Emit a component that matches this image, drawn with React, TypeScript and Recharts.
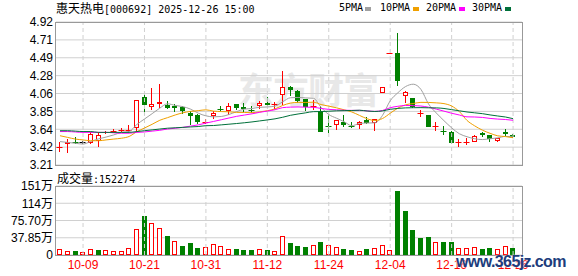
import { Bar, CartesianGrid, ComposedChart, Line, ReferenceLine, XAxis, YAxis } from 'recharts'

const W = 578
const H = 276
const RED = '#ff0000'
const GREEN = '#008000'
const GRID = '#d0d0d0'
const FONT = '"Liberation Sans", Arial, "Noto Sans CJK SC", sans-serif'
const MONO = '"DejaVu Sans Mono", monospace'
const CJK = '"Noto Sans CJK SC", sans-serif'

const dates = [
  '09-26', '09-29', '09-30', '10-09', '10-10', '10-13', '10-14', '10-15', '10-16', '10-17',
  '10-20', '10-21', '10-22', '10-23', '10-24', '10-27', '10-28', '10-29', '10-30', '10-31',
  '11-03', '11-04', '11-05', '11-06', '11-07', '11-10', '11-11', '11-12', '11-13', '11-14',
  '11-17', '11-18', '11-19', '11-20', '11-21', '11-24', '11-25', '11-26', '11-27', '11-28',
  '12-01', '12-02', '12-03', '12-04', '12-05', '12-08', '12-09', '12-10', '12-11', '12-12',
  '12-15', '12-16', '12-17', '12-18', '12-19', '12-22', '12-23', '12-24', '12-25', '12-26',
]

const opens = [
  3.41, 3.46, 3.5, 3.48, 3.47, 3.5, 3.59, 3.61, 3.62, 3.62,
  3.65, 4.02, 3.9, 3.94, 3.93, 3.92, 3.9, 3.83, 3.81, 3.72,
  3.79, 3.89, 3.86, 3.94, 3.9, 3.88, 3.91, 3.95, 3.93, 4.05,
  4.14, 4.1, 4.0, 3.91, 3.85, 3.69, 3.69, 3.72, 3.69, 3.69,
  3.75, 3.71, 4.07, 4.55, 4.55, 4.03, 4.01, 3.82, 3.81, 3.67,
  3.63, 3.61, 3.47, 3.48, 3.49, 3.59, 3.57, 3.5, 3.61, 3.57,
]
const highs = [
  3.49, 3.52, 3.55, 3.5, 3.61, 3.6, 3.62, 3.64, 3.65, 3.69,
  3.99, 4.07, 4.13, 4.18, 3.97, 3.94, 3.92, 3.86, 3.82, 3.76,
  3.86, 3.92, 3.95, 3.94, 3.95, 3.91, 3.98, 4.02, 3.96, 4.34,
  4.16, 4.11, 4.0, 3.99, 3.92, 3.81, 3.75, 3.81, 3.72, 3.74,
  3.78, 3.76, 4.14, 4.55, 4.79, 4.1, 4.01, 3.87, 3.81, 3.73,
  3.68, 3.62, 3.52, 3.53, 3.57, 3.61, 3.57, 3.53, 3.64, 3.58,
]
const lows = [
  3.37, 3.35, 3.46, 3.46, 3.46, 3.42, 3.58, 3.59, 3.6, 3.6,
  3.6, 3.81, 3.87, 3.89, 3.88, 3.84, 3.82, 3.69, 3.7, 3.7,
  3.76, 3.86, 3.81, 3.87, 3.84, 3.83, 3.88, 3.91, 3.88, 3.93,
  4.04, 3.95, 3.85, 3.87, 3.6, 3.59, 3.63, 3.67, 3.65, 3.64,
  3.7, 3.62, 4.07, 4.55, 4.16, 3.95, 3.89, 3.78, 3.66, 3.62,
  3.57, 3.46, 3.42, 3.45, 3.49, 3.55, 3.49, 3.48, 3.56, 3.53,
]
const closes = [
  3.42, 3.49, 3.49, 3.48, 3.58, 3.57, 3.6, 3.62, 3.63, 3.63,
  3.99, 3.93, 3.94, 3.96, 3.89, 3.89, 3.86, 3.79, 3.72, 3.73,
  3.83, 3.88, 3.91, 3.89, 3.88, 3.87, 3.95, 3.93, 3.94, 4.14,
  4.11, 3.97, 3.9, 3.92, 3.6, 3.68, 3.75, 3.69, 3.68, 3.73,
  3.71, 3.76, 4.14, 4.55, 4.21, 4.08, 3.9, 3.83, 3.67, 3.68,
  3.62, 3.47, 3.48, 3.49, 3.56, 3.57, 3.52, 3.53, 3.58, 3.54,
]

// 成交量, 万
const volumes = [
  13.2, 9.5, 8.0, 6.6, 13.2, 11.7, 11.7, 9.5, 9.5, 15.4,
  57.0, 86.3, 70.2, 59.2, 42.4, 30.7, 20.5, 27.1, 16.1, 17.6,
  24.1, 19.7, 13.2, 13.9, 11.7, 11.7, 13.2, 11.7, 8.8, 41.7,
  27.1, 20.5, 18.3, 21.9, 29.3, 21.9, 17.6, 13.9, 11.7, 8.8,
  13.9, 15.4, 21.9, 11.7, 141.1, 97.3, 55.6, 38.0, 40.2, 28.5,
  29.3, 27.8, 15.4, 15.4, 18.3, 13.9, 16.1, 13.2, 19.7, 15.23,
]
// 1 = red (hollow) volume bar, 0 = green
const volUp = [
  1, 1, 0, 1, 1, 0, 1, 1, 1, 1,
  1, 0, 1, 1, 0, 1, 0, 0, 0, 1,
  1, 1, 1, 0, 0, 0, 1, 0, 1, 1,
  0, 0, 0, 1, 0, 1, 1, 0, 0, 1,
  0, 1, 1, 1, 0, 0, 0, 0, 0, 1,
  0, 0, 1, 1, 1, 0, 0, 1, 1, 0,
]

const ma5 = [
  3.49, 3.48, 3.47, 3.46, 3.492, 3.522, 3.544, 3.57, 3.6, 3.61,
  3.694, 3.76, 3.824, 3.89, 3.942, 3.922, 3.908, 3.878, 3.83, 3.798,
  3.786, 3.79, 3.814, 3.848, 3.878, 3.886, 3.9, 3.904, 3.914, 3.966,
  4.014, 4.018, 4.012, 4.008, 3.9, 3.814, 3.77, 3.728, 3.68, 3.706,
  3.712, 3.714, 3.804, 3.978, 4.074, 4.148, 4.176, 4.114, 3.938, 3.832,
  3.74, 3.654, 3.584, 3.548, 3.524, 3.514, 3.524, 3.534, 3.552, 3.548,
]
const ma10 = [
  3.56, 3.54, 3.52, 3.51, 3.5, 3.5, 3.51, 3.52, 3.53, 3.551,
  3.608, 3.652, 3.697, 3.745, 3.776, 3.808, 3.834, 3.851, 3.86, 3.87,
  3.854, 3.849, 3.846, 3.839, 3.838, 3.836, 3.845, 3.859, 3.881, 3.922,
  3.95, 3.959, 3.958, 3.961, 3.933, 3.914, 3.894, 3.87, 3.844, 3.803,
  3.763, 3.742, 3.766, 3.829, 3.89, 3.93, 3.945, 3.959, 3.958, 3.953,
  3.944, 3.915, 3.849, 3.743, 3.678, 3.627, 3.589, 3.559, 3.55, 3.536,
]
const ma20 = [
  3.61, 3.61, 3.605, 3.6, 3.6, 3.6, 3.6, 3.595, 3.59, 3.59,
  3.6, 3.605, 3.615, 3.625, 3.64, 3.65, 3.66, 3.675, 3.69, 3.711,
  3.731, 3.751, 3.772, 3.792, 3.807, 3.822, 3.84, 3.855, 3.871, 3.896,
  3.902, 3.904, 3.902, 3.9, 3.886, 3.875, 3.87, 3.865, 3.863, 3.863,
  3.857, 3.851, 3.862, 3.895, 3.912, 3.922, 3.92, 3.915, 3.901, 3.878,
  3.854, 3.829, 3.808, 3.786, 3.784, 3.779, 3.767, 3.759, 3.754, 3.745,
]
const ma30 = [
  3.62, 3.62, 3.615, 3.61, 3.61, 3.6, 3.6, 3.6, 3.6, 3.6,
  3.61, 3.62, 3.63, 3.64, 3.65, 3.655, 3.66, 3.665, 3.67, 3.68,
  3.682, 3.69, 3.698, 3.706, 3.715, 3.725, 3.737, 3.749, 3.762, 3.781,
  3.804, 3.82, 3.834, 3.848, 3.849, 3.853, 3.858, 3.86, 3.862, 3.865,
  3.856, 3.85, 3.857, 3.876, 3.887, 3.893, 3.895, 3.896, 3.894, 3.893,
  3.886, 3.872, 3.858, 3.844, 3.834, 3.824, 3.809, 3.796, 3.784, 3.764,
]

const priceTicks = [3.21, 3.42375, 3.6375, 3.85125, 4.065, 4.27875, 4.4925, 4.70625, 4.92]
const priceTickLabels = ['3.21', '3.42', '3.64', '3.85', '4.06', '4.28', '4.49', '4.71', '4.92']
const volTicks = [0, 37.85, 75.7, 113.55, 151.4]
const volTickLabels = ['0', '37.85万', '75.70万', '114万', '151万']
const dateTicks = [3, 11, 19, 27, 35, 43, 51, 59]

const maSeries = [
  { key: 'ma5', name: '5PMA', color: '#a0a0a0' },
  { key: 'ma10', name: '10PMA', color: '#f0a000' },
  { key: 'ma20', name: '20PMA', color: '#ff00ff' },
  { key: 'ma30', name: '30PMA', color: '#00703a' },
]

const X_DOMAIN: [number, number] = [-0.52, 60.16]

const rows = dates.map((date, i) => ({
  i,
  date,
  open: opens[i],
  high: highs[i],
  low: lows[i],
  close: closes[i],
  prev: i > 0 ? closes[i - 1] : closes[i],
  range: [lows[i], highs[i]],
  vol: volumes[i],
  volUp: volUp[i],
  ma5: ma5[i],
  ma10: ma10[i],
  ma20: ma20[i],
  ma30: ma30[i],
}))

function Candle(props: any) {
  const { x, y, width, height, payload } = props
  if (x == null || y == null || !payload) return null
  const { open, close, high, low, prev } = payload
  const top = Math.min(y, y + height)
  const h = Math.abs(height)
  const span = high - low
  const toY = (v: number) => (span > 0 ? top + ((high - v) / span) * h : top)
  const color = close > open ? RED : close < open ? GREEN : close > prev ? RED : '#000'
  const cx = Math.floor(x + width / 2) + 0.5
  const yo = toY(open)
  const yc = toY(close)
  const bTop = Math.round(Math.min(yo, yc))
  const bBot = Math.round(Math.max(yo, yc))
  const wick = <line x1={cx} x2={cx} y1={Math.round(toY(high))} y2={Math.round(toY(low))} stroke={color} />
  if (bBot - bTop < 2) {
    const yy = Math.round(yc) + 0.5
    return (
      <g>
        {wick}
        <line x1={cx - 3} x2={cx + 3} y1={yy} y2={yy} stroke={color} />
      </g>
    )
  }
  if (close > open) {
    return (
      <g>
        {wick}
        <rect x={cx - 2} y={bTop + 0.5} width={4} height={bBot - bTop - 1} fill="#fff" stroke={RED} />
      </g>
    )
  }
  return (
    <g>
      {wick}
      <rect x={cx - 2.5} y={bTop} width={5} height={bBot - bTop} fill={GREEN} />
    </g>
  )
}

function VolBar(props: any) {
  const { x, y, width, height, payload } = props
  if (x == null || y == null || !payload) return null
  const top = Math.round(Math.min(y, y + height))
  const bot = Math.round(Math.max(y, y + height))
  const cx = Math.floor(x + width / 2) + 0.5
  if (payload.volUp) {
    return <rect x={cx - 2} y={top + 0.5} width={4} height={Math.max(1, bot - top - 1)} fill="#fff" stroke={RED} />
  }
  return <rect x={cx - 2.5} y={top} width={5} height={bot - top} fill={GREEN} />
}

const legendPos = [
  { text: 339, box: 365 },
  { text: 380, box: 413 },
  { text: 426, box: 459 },
  { text: 472, box: 505 },
]

export default function App() {
  return (
    <div
      style={{
        position: 'absolute',
        left: 0,
        top: 0,
        width: W,
        height: H,
        background: '#fff',
        overflow: 'hidden',
      }}
    >
      {/* faint site watermark behind the plot */}
      <div
        style={{
          position: 'absolute',
          left: 238,
          top: 66,
          fontFamily: CJK,
          fontSize: 36,
          fontWeight: 700,
          color: '#e8e8e8',
          letterSpacing: -1,
          whiteSpace: 'nowrap',
          lineHeight: '44px',
        }}
      >
        东方财富
      </div>

      <div style={{ position: 'absolute', left: 0, top: 0 }}>
        <ComposedChart width={W} height={H} data={rows} margin={{ top: 22, right: 56, bottom: 111, left: 0 }}>
          <CartesianGrid vertical={false} stroke={GRID} />
          {dateTicks.map((t) => (
            <ReferenceLine key={t} x={t} stroke={GRID} strokeDasharray="4 3" />
          ))}
          <XAxis dataKey="i" type="number" domain={X_DOMAIN} allowDataOverflow hide />
          <YAxis
            type="number"
            domain={[3.21, 4.92]}
            ticks={priceTicks}
            interval={0}
            allowDataOverflow
            width={56}
            axisLine={false}
            tickLine={false}
            tickSize={0}
            tickMargin={3}
            tick={{ fill: '#000', fontSize: 12, fontFamily: FONT }}
            tickFormatter={(v: number) => priceTickLabels[priceTicks.indexOf(v)] ?? ''}
          />
          <Bar dataKey="range" barSize={5} shape={(p: any) => <Candle {...p} />} isAnimationActive={false} />
          {maSeries.map((m) => (
            <Line
              key={m.key}
              dataKey={m.key}
              type="monotone"
              stroke={m.color}
              strokeWidth={1}
              dot={false}
              activeDot={false}
              isAnimationActive={false}
            />
          ))}
        </ComposedChart>
      </div>

      <div style={{ position: 'absolute', left: 0, top: 0 }}>
        <ComposedChart width={W} height={H} data={rows} margin={{ top: 186, right: 56, bottom: 0, left: 0 }}>
          <CartesianGrid vertical={false} stroke={GRID} />
          {dateTicks.map((t) => (
            <ReferenceLine key={t} x={t} stroke={GRID} strokeDasharray="4 3" />
          ))}
          <XAxis
            dataKey="i"
            type="number"
            domain={X_DOMAIN}
            allowDataOverflow
            ticks={dateTicks}
            interval={0}
            height={21}
            axisLine={false}
            tickLine={false}
            tickSize={0}
            tickMargin={5}
            tick={{ fill: RED, fontSize: 12, fontFamily: FONT }}
            tickFormatter={(v: number) => dates[v] ?? ''}
          />
          <YAxis
            type="number"
            domain={[0, 151.4]}
            ticks={volTicks}
            interval={0}
            allowDataOverflow
            width={56}
            axisLine={false}
            tickLine={false}
            tickSize={0}
            tickMargin={3}
            tick={{ fill: '#000', fontSize: 12, fontFamily: FONT }}
            tickFormatter={(v: number) => volTickLabels[volTicks.indexOf(v)] ?? ''}
          />
          <Bar dataKey="vol" barSize={5} shape={(p: any) => <VolBar {...p} />} isAnimationActive={false} />
        </ComposedChart>
      </div>

      {/* plot frames */}
      <div style={{ position: 'absolute', left: 55, top: 22, width: 466, height: 142, border: '1px solid #999' }} />
      <div style={{ position: 'absolute', left: 55, top: 186, width: 466, height: 68, border: '1px solid #999' }} />

      <div style={{ position: 'absolute', left: 56, top: 1, whiteSpace: 'nowrap', lineHeight: '14px', color: '#000' }}>
        <span style={{ fontFamily: CJK, fontSize: 12 }}>惠天热电</span>
        <span style={{ fontFamily: MONO, fontSize: 10 }}>[000692] 2025-12-26 15:00</span>
      </div>

      {maSeries.map((m, k) => (
        <div key={m.key}>
          <div
            style={{
              position: 'absolute',
              left: legendPos[k].text,
              top: 1,
              fontFamily: MONO,
              fontSize: 10,
              lineHeight: '14px',
              color: '#000',
              whiteSpace: 'nowrap',
            }}
          >
            {m.name}
          </div>
          <div
            style={{
              position: 'absolute',
              left: legendPos[k].box,
              top: 7,
              width: 6,
              height: 4,
              background: m.color,
            }}
          />
        </div>
      ))}

      <div style={{ position: 'absolute', left: 57, top: 171, whiteSpace: 'nowrap', lineHeight: '14px', color: '#000' }}>
        <span style={{ fontFamily: CJK, fontSize: 12 }}>成交量</span>
        <span style={{ fontFamily: MONO, fontSize: 10 }}>:152274</span>
      </div>

      <div
        style={{
          position: 'absolute',
          left: 456,
          top: 253,
          fontFamily: FONT,
          fontSize: 16,
          fontWeight: 700,
          color: '#203c7c',
          letterSpacing: -0.6,
          whiteSpace: 'nowrap',
          lineHeight: '18px',
          textShadow: '0 0 2px #fff',
        }}
      >
        www.365jz.com
      </div>
    </div>
  )
}
